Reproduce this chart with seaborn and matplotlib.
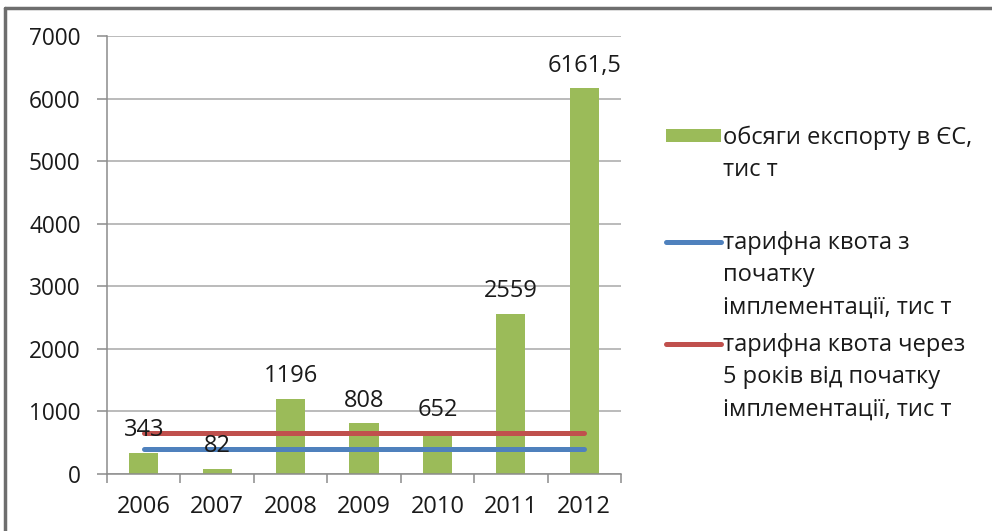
import numpy as np
import pandas as pd
import matplotlib
matplotlib.use("Agg")
import matplotlib.pyplot as plt
import seaborn as sns
from matplotlib.lines import Line2D
from matplotlib.patches import Patch

years = ["2006", "2007", "2008", "2009", "2010", "2011", "2012"]
export_vals = [343, 82, 1196, 808, 652, 2559, 6161.5]
export_labels = ["343", "82", "1196", "808", "652", "2559", "6161,5"]
quota_start = [400, 400, 400, 400, 400, 400, 400]
quota_5y = [650, 650, 650, 650, 650, 650, 650]
yticks = [0, 1000, 2000, 3000, 4000, 5000, 6000, 7000]

lab_bar = ["обсяги експорту в ЄС,", "тис т"]
lab_q1 = ["тарифна квота з", "початку", "імплементації, тис т"]
lab_q2 = ["тарифна квота через", "5 років від початку", "імплементації, тис т"]

sns.set_theme(style="white")
plt.rcParams["font.family"] = ["Open Sans", "DejaVu Sans"]
txt = "#1a1a1a"
fs = 17
fs_y = 16.3
green, blue, red = "#9BBB59", "#4F81BD", "#C0504D"

W, H = 992, 531
fig = plt.figure(figsize=(W/100, H/100), dpi=100)
ax = fig.add_axes([107/W, 1-474/H, (621-107)/W, (474-36)/H])

df = pd.DataFrame({"year": years, "v": export_vals})
sns.barplot(data=df, x="year", y="v", color=green, width=0.395, ax=ax,
            saturation=1, edgecolor="none")
xs = np.arange(len(years))
sns.lineplot(x=xs, y=quota_start, color=blue, linewidth=3.6, ax=ax)
sns.lineplot(x=xs, y=quota_5y, color=red, linewidth=3.6, ax=ax)

for i, (v, l) in enumerate(zip(export_vals, export_labels)):
    ax.annotate(l, (i, v), xytext=(0, 16.5), textcoords="offset points",
                ha="center", va="center", fontsize=fs, color=txt)

ax.set_xlim(-0.5, 6.5)
ax.set_ylim(0, 7000)
ax.set_yticks(yticks)
ax.set_yticklabels([str(t) for t in yticks], fontsize=fs_y, color=txt)
ax.set_xticks(xs)
ax.set_xticklabels(years, fontsize=fs, color=txt)
ax.set_xticks(np.arange(-0.5, 7, 1), minor=True)
ax.tick_params(axis="x", which="major", length=0, pad=15)
ax.tick_params(axis="x", which="minor", length=6.5, width=1.1, color="#8c8c8c",
               direction="out", bottom=True)
ax.tick_params(axis="y", length=7, width=1.1, color="#8c8c8c", direction="out",
               left=True, pad=12)
ax.set_xlabel("")
ax.set_ylabel("")
ax.yaxis.grid(True, color="#a8a8a8", linewidth=1.1)
ax.set_axisbelow(True)
for s in ["top", "right"]:
    ax.spines[s].set_visible(False)
for s in ["left", "bottom"]:
    ax.spines[s].set_color("#8c8c8c")
    ax.spines[s].set_linewidth(1.1)

# legend: handles via legend, text lines placed Excel-like
fpx = fs * 100 / 72.0
entries = [
    (Patch(facecolor=green, edgecolor="none"), lab_bar, [138, 170]),
    (Line2D([], [], color=blue, linewidth=3.6), lab_q1, [243, 275, 307]),
    (Line2D([], [], color=red, linewidth=3.6), lab_q2, [345, 377, 409]),
]
hl = 55 / fpx
for h, lines, ys in entries:
    leg = fig.legend([h], [""], loc="center left",
                     bbox_to_anchor=(666/W, 1-ys[0]/H),
                     frameon=False, fontsize=fs, handlelength=hl,
                     handleheight=0.45, handletextpad=0, borderpad=0,
                     borderaxespad=0)
    for line, y in zip(lines, ys):
        fig.text(723/W, 1-(y + 0.27*fpx)/H, line, fontsize=fs, color=txt,
                 ha="left", va="baseline")

# outer chart frame (only top and left visible)
fig.add_artist(Line2D([5/W, 5/W], [0, 1-8/H], transform=fig.transFigure,
                      color="#6e6e6e", linewidth=2.5))
fig.add_artist(Line2D([5/W, 1], [1-8/H, 1-8/H], transform=fig.transFigure,
                      color="#6e6e6e", linewidth=2.5))

fig.savefig("out.png", dpi=100)
